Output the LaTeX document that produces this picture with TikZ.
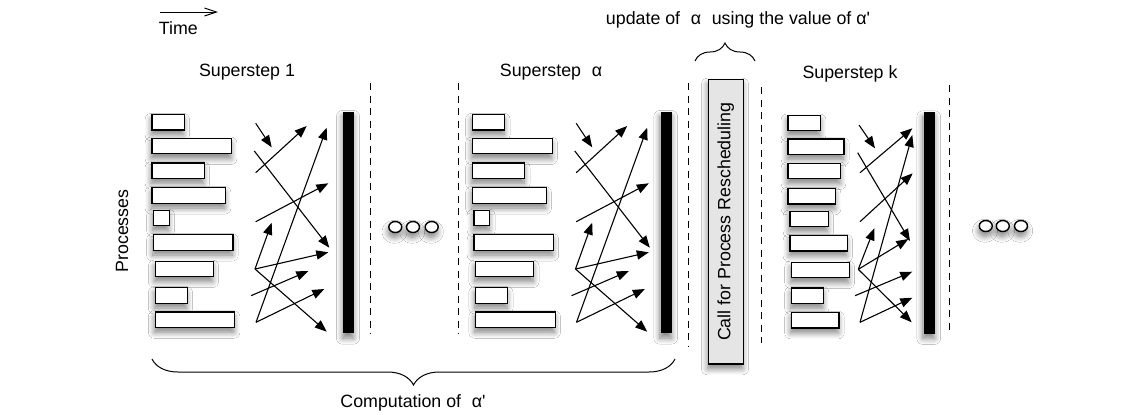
\documentclass[tikz,border=0pt]{standalone}
\usepackage{fontspec}
\setmainfont{Liberation Sans}
\usetikzlibrary{arrows.meta,positioning,shapes.geometric,decorations.pathreplacing,shadows.blur}

\tikzset{
  txt/.style={font=\fontsize{8.9}{10.7}\selectfont, inner sep=0pt},
  soft/.style={blur shadow={shadow xshift=-0.4pt, shadow yshift=-2.4pt, shadow blur radius=3pt, shadow blur steps=8, shadow opacity=50}},
  procbar/.style={draw, fill=white, line width=0.6pt, minimum height=7.75pt, inner sep=0pt, anchor=west, soft},
  syncbar/.style={fill=black, inner sep=0pt, minimum height=110.8pt, soft},
  msg/.style={-{Triangle[length=6pt,width=4.6pt]}, line width=0.55pt},
  sep/.style={dash pattern=on 3.5pt off 2.75pt, line width=0.7pt},
  moredot/.style={draw, ellipse, line width=0.7pt, inner sep=0pt, minimum width=6.5pt, minimum height=5.5pt, fill=white, soft},
  callbox/.style={draw, fill=black!10, line width=0.6pt, inner sep=0pt, minimum width=142.3pt, minimum height=17.5pt, rotate=90, soft},
}

\begin{document}
\begin{tikzpicture}[x=0.5pt, y=-0.5pt]
  \useasboundingbox[fill=white] (0,0) rectangle (1141,414);

  % time arrow and axis label
  \coordinate (t0) at (160,12);
  \coordinate (t1) at (218,12);
  \draw[-{Straight Barb[length=6pt,width=4pt]}, line width=0.5pt] (t0) -- (t1);
  \node[txt, anchor=north west] (time) at (158.5,21) {Time};
  \node[txt, rotate=90] (procs) at (122,231) {Processes};

  % supersteps 1 and alpha
  \foreach \p/\dx in {one/0, alpha/320.5}{
    \foreach \x/\y/\w [count=\i] in {151.3/122.3/32.4, 151.3/146/79.8, 151.3/170.7/52.4,
        151.3/195.5/73.8, 152.9/218/15.8, 152.9/242.5/79.5, 154.6/269/58.1,
        154.6/295.5/32.1, 154.6/319.7/79.5}
      \node[procbar, minimum width=\w*0.5pt] (\p-bar\i) at (\x+\dx,\y) {};
    \foreach \x/\y/\u/\v [count=\j] in {255.7/123.3/271.7/147.3, 255.7/172.7/306.7/126,
        254.3/151/329.3/247.7, 255.7/221.7/328.3/183.3, 256/322.3/326.7/127.7,
        255/269/271.7/222.7, 255/269/328.3/252.3, 255/269/326.7/331.7,
        251/295.7/308.3/271, 256/322.3/324.3/289}{
      \coordinate (\p-from\j) at (\x+\dx,\y);
      \coordinate (\p-to\j) at (\u+\dx,\v);
      \draw[msg] (\p-from\j) -- (\p-to\j);
    }
  }

  % superstep k
  \foreach \x/\y/\w [count=\i] in {787.3/123/32.8, 787.3/146.7/56.1, 787.3/171/52.8,
      787.3/196.3/47.8, 789.3/219/38.4, 789.3/243.3/57.4, 790.9/270/57.8,
      790.9/295.7/32.2, 790.9/320.3/47.5}
    \node[procbar, minimum width=\w*0.5pt] (k-bar\i) at (\x,\y) {};
  \foreach \x/\y/\u/\v [count=\j] in {859/125/875/148.3, 860/172.7/912.3/128.3,
      857.7/152.7/910/241, 860/221.7/912.7/173.3, 860/322.3/912.3/135,
      858.3/269.3/874.3/228.3, 858.3/269.3/908.3/239, 858.3/269.3/911.7/322.3,
      855/295.7/912.3/271.7, 860/322.3/912.3/297.7}{
    \coordinate (k-from\j) at (\x,\y);
    \coordinate (k-to\j) at (\u,\v);
    \draw[msg] (k-from\j) -- (k-to\j);
  }

  % barriers
  \node[syncbar, minimum width=5.5pt] (one-sync) at (348.8,222.5) {};
  \node[syncbar, minimum width=5.8pt] (alpha-sync) at (666.5,222.5) {};
  \node[syncbar, minimum width=5.8pt] (k-sync) at (929.5,222.8) {};

  % separators
  \foreach \x/\ya/\yb [count=\i] in {370.7/83/334, 458.3/83/334, 688.2/83/347,
      761.7/87/343, 949.3/85/334}{
    \coordinate (sep\i-top) at (\x,\ya);
    \coordinate (sep\i-bot) at (\x,\yb);
    \draw[sep] (sep\i-top) -- (sep\i-bot);
  }

  % titles
  \node[txt, anchor=base] (title-one) at (247,76) {Superstep 1};
  \node[txt, anchor=base] (title-alpha) at (551,76) {Superstep\hspace{0.6em}α};
  \node[txt, anchor=base] (title-k) at (850,78.5) {Superstep k};

  % omitted supersteps
  \foreach \x [count=\i] in {395.3,413,431.7}
    \node[moredot] (dotsA\i) at (\x,227) {};
  \foreach \x [count=\i] in {985.8,1002.8,1021}
    \node[moredot] (dotsB\i) at (\x,226) {};

  % rescheduling call
  \node[callbox] (call) at (725.8,221.7) {\fontsize{8.9}{10.7}\selectfont Call for Process Rescheduling};
  \coordinate (ubraceL) at (695,61);
  \coordinate (ubraceR) at (755,61);
  \draw[decorate, decoration={brace, amplitude=9pt}, line width=0.5pt] (ubraceL) -- (ubraceR);
  \node[txt, anchor=base] (update) at (738,24) {update of\hspace{0.6em}α\hspace{0.6em}using the value of α\textquotesingle};

  % computation brace
  \coordinate (lbraceR) at (675,359);
  \coordinate (lbraceL) at (152,359);
  \draw[decorate, decoration={brace, amplitude=13pt}, line width=0.5pt] (lbraceR) -- (lbraceL);
  \node[txt, anchor=base] (comp) at (413,407) {Computation of\hspace{0.6em}α\textquotesingle};
\end{tikzpicture}
\end{document}
